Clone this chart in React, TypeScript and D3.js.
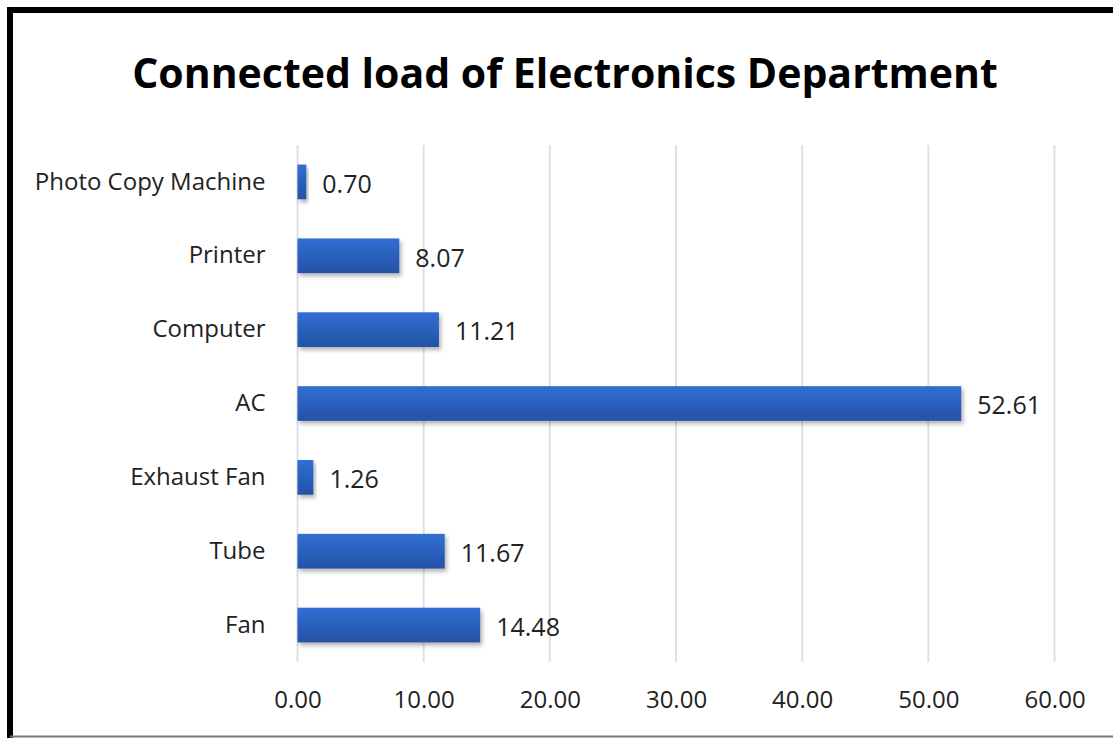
import React, { useEffect, useRef } from 'react'
import * as d3 from 'd3'

const categories = ['Photo Copy Machine', 'Printer', 'Computer', 'AC', 'Exhaust Fan', 'Tube', 'Fan']
const loads = [0.7, 8.07, 11.21, 52.61, 1.26, 11.67, 14.48]
const ticks = [0, 10, 20, 30, 40, 50, 60]

const W = 1113
const H = 738
const FONT = "'Open Sans', 'Noto Sans', sans-serif"

export default function App() {
  const svgRef = useRef<SVGSVGElement>(null)

  useEffect(() => {
    if (!svgRef.current) return
    const svg = d3.select(svgRef.current)
    svg.selectAll('*').remove()

    const margin = { top: 145, left: 297.5, right: 58.5, bottom: 76 }
    const x = d3.scaleLinear().domain([0, 60]).range([margin.left, W - margin.right])
    const y = d3.scaleBand().domain(categories).range([margin.top, H - margin.bottom]).paddingInner(0.53).paddingOuter(0.265)

    const defs = svg.append('defs')
    const grad = defs.append('linearGradient').attr('id', 'barGrad').attr('x1', 0).attr('y1', 0).attr('x2', 0).attr('y2', 1)
    grad.append('stop').attr('offset', '0%').attr('stop-color', '#316ed4')
    grad.append('stop').attr('offset', '100%').attr('stop-color', '#2452a6')
    const shadow = defs.append('filter').attr('id', 'shadow').attr('x', '-10%').attr('y', '-20%').attr('width', '130%').attr('height', '160%')
    shadow.append('feDropShadow').attr('dx', 2).attr('dy', 3).attr('stdDeviation', 2).attr('flood-color', '#000').attr('flood-opacity', 0.3)

    svg.append('rect').attr('width', W).attr('height', H).attr('fill', '#fff')

    // frame
    svg.append('line').attr('x1', 10).attr('x2', W).attr('y1', 10).attr('y2', 10).attr('stroke', '#000').attr('stroke-width', 6)
    svg.append('line').attr('x1', 10).attr('x2', 10).attr('y1', 7).attr('y2', H).attr('stroke', '#000').attr('stroke-width', 6)
    svg.append('line').attr('x1', 10).attr('x2', W).attr('y1', H - 1.5).attr('y2', H - 1.5).attr('stroke', '#777').attr('stroke-width', 2)

    svg.append('text')
      .attr('x', 565).attr('y', 88)
      .attr('text-anchor', 'middle')
      .style('font-family', FONT).style('font-weight', 'bold').style('font-size', '41px')
      .attr('fill', '#000')
      .text('Connected load of Electronics Department')

    // gridlines
    svg.append('g').selectAll('line').data(ticks).enter().append('line')
      .attr('x1', d => x(d)).attr('x2', d => x(d))
      .attr('y1', margin.top).attr('y2', H - margin.bottom)
      .attr('stroke', '#dde1ea').attr('stroke-width', 2)

    // x axis
    const xAxis = svg.append('g')
      .attr('transform', `translate(0,${H - margin.bottom})`)
      .call(d3.axisBottom(x).tickValues(ticks).tickFormat(d3.format('.2f')).tickSize(0))
    xAxis.select('.domain').remove()
    xAxis.selectAll('text')
      .attr('y', 38).attr('dy', '0.35em')
      .style('font-family', FONT).style('font-size', '24px').attr('fill', '#222')

    // y axis
    const yAxis = svg.append('g')
      .attr('transform', `translate(${margin.left - 32},0)`)
      .call(d3.axisLeft(y).tickSize(0))
    yAxis.select('.domain').remove()
    yAxis.selectAll('text')
      .attr('x', 0)
      .style('font-family', FONT).style('font-size', '24px').attr('fill', '#222')

    // bars
    svg.append('g').selectAll('rect').data(categories).enter().append('rect')
      .attr('x', x(0))
      .attr('y', d => y(d) || 0)
      .attr('width', (d, i) => x(loads[i]) - x(0))
      .attr('height', y.bandwidth())
      .attr('fill', 'url(#barGrad)')
      .attr('filter', 'url(#shadow)')

    // value labels
    svg.append('g').selectAll('text').data(categories).enter().append('text')
      .attr('x', (d, i) => x(loads[i]) + 16)
      .attr('y', d => (y(d) || 0) + y.bandwidth() / 2 + 2)
      .attr('dy', '0.35em')
      .style('font-family', FONT).style('font-size', '25px').attr('fill', '#222')
      .text((d, i) => loads[i].toFixed(2))
  }, [])

  return (
    <div style={{ position: 'absolute', left: 0, top: 0 }}>
      <svg ref={svgRef} width={W} height={H} style={{ display: 'block' }}></svg>
    </div>
  )
}
